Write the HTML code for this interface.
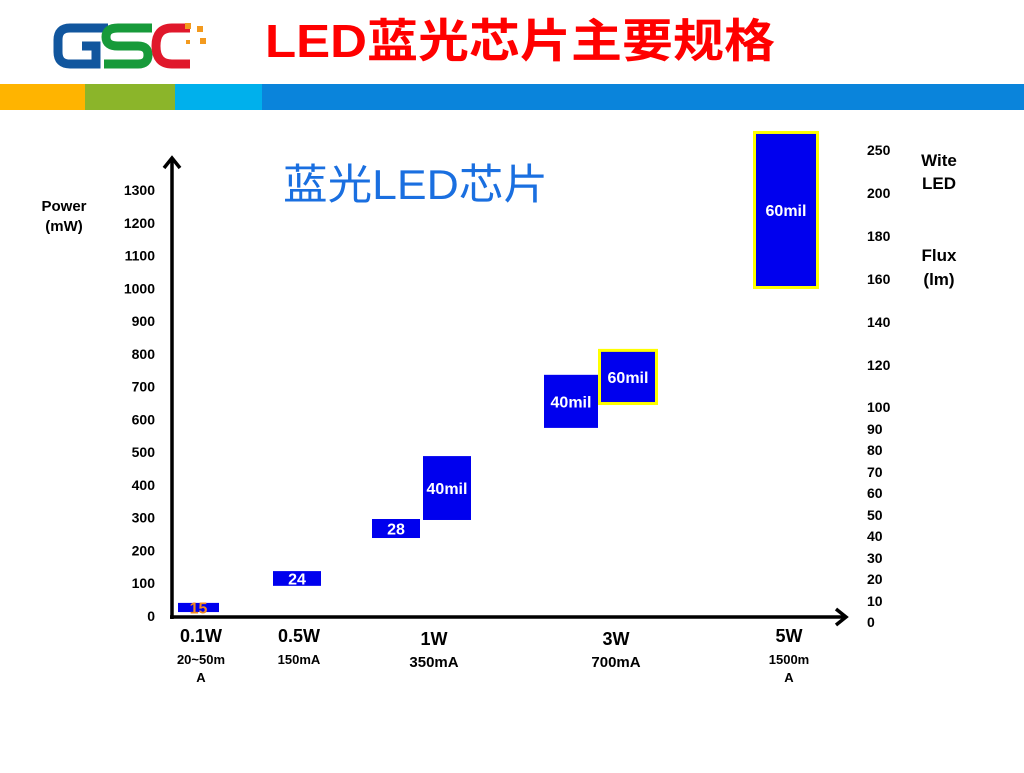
<!DOCTYPE html>
<html><head><meta charset="utf-8"><style>
body{margin:0;width:1024px;height:768px;background:#fff;overflow:hidden;font-family:"Liberation Sans","Noto Sans CJK SC",sans-serif;}
svg text{font-family:"Liberation Sans","Noto Sans CJK SC",sans-serif;}
</style></head><body>
<svg width="1024" height="768" viewBox="0 0 1024 768">
<g>
<path d="M108 28 H70 Q58 28 58 40 V52 Q58 64 70 64 H96 V46 H82" fill="none" stroke="#11569e" stroke-width="9"/>
<path d="M152 28 H118 Q106 28 106 37 Q106 46 118 46 H138 Q148 46 148 55 Q148 64 138 64 H104" fill="none" stroke="#179a3a" stroke-width="9"/>
<path d="M190 28 H172 Q156 28 156 46 Q156 64 172 64 H190" fill="none" stroke="#e0182b" stroke-width="9"/>
<rect x="185" y="23" width="6" height="6" fill="#f39a1e"/><rect x="197" y="26" width="6" height="6" fill="#f39a1e"/><rect x="200" y="38" width="6" height="6" fill="#f39a1e"/><rect x="186" y="40" width="4" height="4" fill="#f39a1e"/>
</g>
<text x="265" y="57" font-size="46" font-weight="bold" fill="#ff0000" textLength="510" lengthAdjust="spacingAndGlyphs">LED蓝光芯片主要规格</text>
<rect x="0" y="84" width="85" height="26" fill="#ffb400"/>
<rect x="85" y="84" width="90" height="26" fill="#8bb52a"/>
<rect x="175" y="84" width="87" height="26" fill="#00b0ec"/>
<rect x="262" y="84" width="762" height="26" fill="#0a84db"/>
<text x="283" y="199" font-size="42" fill="#1a6fe0" textLength="265" lengthAdjust="spacingAndGlyphs">蓝光LED芯片</text>
<g font-size="15" font-weight="bold" fill="#000">
<text x="64" y="211" text-anchor="middle">Power</text>
<text x="64" y="231" text-anchor="middle">(mW)</text>
<text x="939" y="166" text-anchor="middle" font-size="17">Wite</text>
<text x="939" y="189" text-anchor="middle" font-size="17">LED</text>
<text x="939" y="261" text-anchor="middle" font-size="17">Flux</text>
<text x="939" y="285" text-anchor="middle" font-size="17">(lm)</text>
</g>
<g id="axes" stroke="#000" stroke-width="3.5" fill="none">
<line x1="172" y1="619" x2="172" y2="160"/>
<polyline points="164,168 172,158 180,168"/>
<line x1="170" y1="617" x2="845" y2="617"/>
<polyline points="836,609 846,617 836,625"/>
</g>
<g id="ticks" font-size="14" font-weight="bold" fill="#000"></g>
<g id="bars"></g>
<g id="cats" font-weight="bold" fill="#000" text-anchor="middle"></g>
<script>
const yTicks=[0,100,200,300,400,500,600,700,800,900,1000,1100,1200,1300];
const fluxTicks=["250","200","180","160","140","120","100","90","80","70","60","50","40","30","20","10","0"];
const fluxY=[150,193,236,279,322,365,407,429,450,472,493,515,536,558,579,601,622];
const barLabels=["15","24","28","40mil","40mil","60mil","60mil"];
const barLow=[12,92,238,293,574,653,1007];
const barHigh=[40,137,296,488,736,806,1471];
const barX0=[178,273,372,423,544,601,756];
const barX1=[219,321,420,471,598,655,816];
const barHighlight=[false,false,false,false,false,true,true];
const catNames=["0.1W","0.5W","1W","3W","5W"];
const catCurrent=[["20~50m","A"],["150mA"],["350mA"],["700mA"],["1500m","A"]];
const catX=[201,299,434,616,789];
const catY=[642,642,645,645,642];
const ns="http://www.w3.org/2000/svg";
function y(v){return 616-v*(616-190)/1300;}
function mk(t,a,p){const e=document.createElementNS(ns,t);for(const k in a)e.setAttribute(k,a[k]);p.appendChild(e);return e;}
const tg=document.getElementById('ticks');
yTicks.forEach((v,i)=>{const t=mk('text',{x:155,y:y(v)+5,'text-anchor':'end'},tg);t.textContent=v;

});
fluxTicks.forEach((v,i)=>{const t=mk('text',{x:867,y:fluxY[i]+5},tg);t.textContent=v;

});
const bg=document.getElementById('bars');
barLabels.forEach((l,i)=>{const top=y(barHigh[i]),bot=y(barLow[i]);
if(barHighlight[i]){const h=mk('rect',{x:barX0[i]-3,y:top-3,width:barX1[i]-barX0[i]+6,height:bot-top+6,fill:'#ffff00'},bg);

}
const r=mk('rect',{x:barX0[i],y:top,width:barX1[i]-barX0[i],height:bot-top,fill:'#0000ee'},bg);


const t=mk('text',{x:(barX0[i]+barX1[i])/2,y:(top+bot)/2+6,'text-anchor':'middle','font-size':16,'font-weight':'bold',fill:i==0?'#f08a20':'#fff'},bg);t.textContent=l;

});
const cg=document.getElementById('cats');
catNames.forEach((c,i)=>{const t=mk('text',{x:catX[i],y:catY[i],'font-size':18},cg);t.textContent=c;


catCurrent[i].forEach((s,j)=>{const u=mk('text',{x:catX[i],y:catY[i]+22+j*18,'font-size':i==2||i==3?15:13},cg);u.textContent=s;

});});
</script>
</svg>
</body></html>
